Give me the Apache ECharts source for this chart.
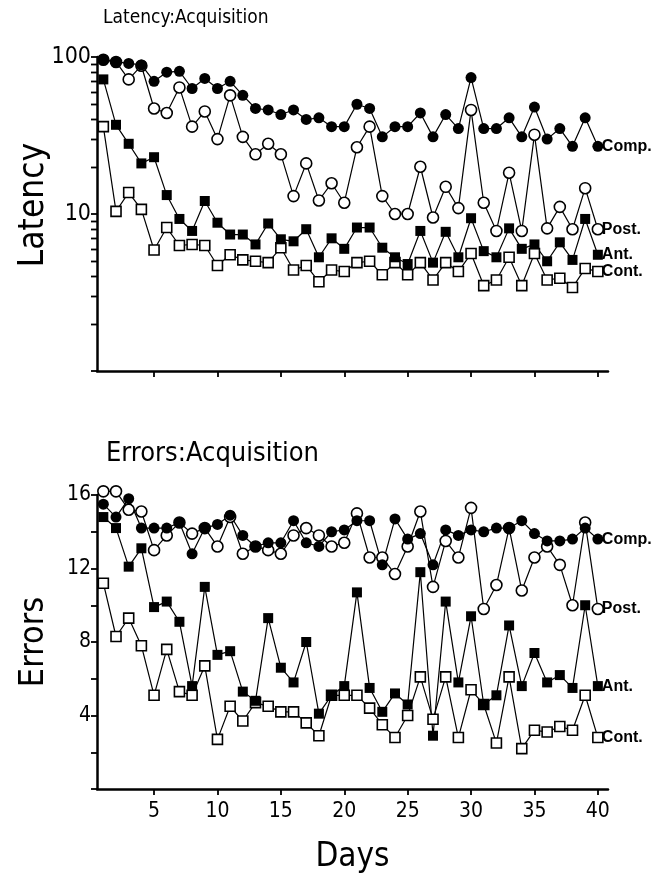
<!DOCTYPE html>
<html>
<head>
<meta charset="utf-8">
<script src="https://cdn.jsdelivr.net/npm/echarts@6/dist/echarts.min.js"></script>
<style>
html, body { margin: 0; padding: 0; background: #fff; }
#chart { width: 663px; height: 880px; }
</style>
</head>
<body>
<div id="chart"></div>
<script>
// days of training
var days = [1, 2, 3, 4, 5, 6, 7, 8, 9, 10, 11, 12, 13, 14, 15, 16, 17, 18, 19, 20,
            21, 22, 23, 24, 25, 26, 27, 28, 29, 30, 31, 32, 33, 34, 35, 36, 37, 38, 39, 40];
var dayTicks = [5, 10, 15, 20, 25, 30, 35, 40];

// latency (log axis)
var latComp = [96, 93, 91, 89, 70, 80, 81, 63, 73, 63, 70, 57, 47, 46, 43, 46, 40, 41, 36, 36,
               50, 47, 31, 36, 36, 44, 31, 43, 35, 74, 35, 35, 41, 31, 48, 30, 35, 27, 41, 27];
var latPost = [96, 93, 72, 88, 47, 44, 64, 36, 45, 30, 57, 31, 24, 28, 24, 13, 21, 12.2, 15.7, 11.8,
               26.6, 36, 13, 10, 10, 20, 9.5, 14.9, 10.9, 46, 11.8, 7.8, 18.3, 7.8, 32, 8.1, 11.1, 8, 14.6, 8];
var latAnt = [72, 37, 28, 21, 23, 13.2, 9.3, 7.8, 12.1, 8.8, 7.4, 7.4, 6.4, 8.7, 6.9, 6.7, 8, 5.3, 7, 6,
              8.2, 8.2, 6.1, 5.3, 4.8, 7.8, 4.9, 7.7, 5.3, 9.4, 5.8, 5.3, 8.1, 6, 6.4, 5, 6.6, 5.1, 9.3, 5.5];
var latCont = [36, 10.4, 13.7, 10.7, 5.9, 8.2, 6.3, 6.4, 6.3, 4.7, 5.5, 5.1, 5, 4.9, 6.1, 4.4, 4.7, 3.7, 4.4, 4.3,
               4.9, 5, 4.1, 4.9, 4.1, 4.9, 3.8, 4.9, 4.3, 5.6, 3.5, 3.8, 5.3, 3.5, 5.6, 3.8, 3.9, 3.4, 4.5, 4.3];
var latMinorTicks = [2, 3, 4, 5, 6, 7, 8, 9, 20, 30, 40, 50, 60, 70, 80, 90];

// errors
var errComp = [15.5, 14.8, 15.8, 14.2, 14.2, 14.2, 14.5, 12.8, 14.2, 14.4, 14.9, 13.8, 13.2, 13.4, 13.4, 14.6, 13.4, 13.2, 14, 14.1,
               14.6, 14.6, 12.2, 14.7, 13.6, 13.9, 12.2, 14.1, 13.8, 14.1, 14, 14.2, 14.2, 14.6, 13.9, 13.5, 13.5, 13.6, 14.2, 13.6];
var errPost = [16.2, 16.2, 15.2, 15.1, 13, 13.8, 14.5, 13.9, 14.2, 13.2, 14.8, 12.8, 13.2, 13, 12.8, 13.8, 14.2, 13.8, 13.2, 13.4,
               15, 12.6, 12.6, 11.7, 13.2, 15.1, 11, 13.5, 12.6, 15.3, 9.8, 11.1, 14.2, 10.8, 12.6, 13.2, 12.2, 10, 14.5, 9.8];
var errAnt = [14.8, 14.2, 12.1, 13.1, 9.9, 10.2, 9.1, 5.6, 11, 7.3, 7.5, 5.3, 4.8, 9.3, 6.6, 5.8, 8, 4.1, 5.1, 5.6,
              10.7, 5.5, 4.2, 5.2, 4.6, 11.8, 2.9, 10.2, 5.8, 9.4, 4.6, 5.1, 8.9, 5.6, 7.4, 5.8, 6.2, 5.5, 10, 5.6];
var errCont = [11.2, 8.3, 9.3, 7.8, 5.1, 7.6, 5.3, 5.1, 6.7, 2.7, 4.5, 3.7, 4.7, 4.5, 4.2, 4.2, 3.6, 2.9, 5.1, 5.1,
               5.1, 4.4, 3.5, 2.8, 4, 6.1, 3.8, 6.1, 2.8, 5.4, 4.6, 2.5, 6.1, 2.2, 3.2, 3.1, 3.4, 3.2, 5.1, 2.8];

var techFont = "'DejaVu Sans Condensed', 'Liberation Sans Narrow', 'DejaVu Sans', sans-serif";
var labelFont = "'Liberation Sans', Arial, sans-serif";

var chart = echarts.init(document.getElementById('chart'));

function pairs(vals) {
    return vals.map(function(v, i) { return [days[i], v]; });
}

function makeSeries(name, vals, panel, symbol, filled, endText) {
    return {
        name: name,
        type: 'line',
        xAxisIndex: panel,
        yAxisIndex: panel,
        data: pairs(vals),
        clip: false,
        symbol: symbol,
        symbolSize: symbol == 'rect' ? 10 : 11,
        showAllSymbol: true,
        lineStyle: { color: '#000', width: 1.2 },
        itemStyle: {
            color: filled ? '#000' : '#fff',
            borderColor: '#000',
            borderWidth: filled ? 0 : 1.6
        },
        endLabel: {
            show: true,
            formatter: endText,
            color: '#000',
            fontFamily: labelFont,
            fontWeight: 'bold',
            fontSize: 16,
            distance: 4
        },
        emphasis: { disabled: true },
        animation: false
    };
}

var tickStyle = { color: '#000', width: 1.8 };

function xAxisFor(panel, showLabels) {
    return {
        type: 'value',
        gridIndex: panel,
        min: 0.5,
        max: 40.8,
        splitLine: { show: false },
        axisLine: { onZero: false, lineStyle: { color: '#000', width: 2.5 } },
        axisTick: { customValues: dayTicks, length: 6, lineStyle: tickStyle },
        axisLabel: {
            show: showLabels,
            customValues: dayTicks,
            color: '#000',
            fontFamily: techFont,
            fontSize: 21,
            margin: 12
        },
        name: showLabels ? 'Days' : '',
        nameLocation: 'middle',
        nameGap: 52,
        nameTextStyle: { color: '#000', fontFamily: techFont, fontSize: 33 }
    };
}

var option = {
    backgroundColor: '#fff',
    animation: false,
    title: [
        { text: 'Latency:Acquisition', left: 98, top: 4,
          textStyle: { color: '#000', fontFamily: techFont, fontWeight: 'normal', fontSize: 19 } },
        { text: 'Errors:Acquisition', left: 101, top: 435,
          textStyle: { color: '#000', fontFamily: techFont, fontWeight: 'normal', fontSize: 27 } }
    ],
    grid: [
        { left: 97, right: 55, top: 57, height: 314, outerBoundsMode: 'none' },
        { left: 97, right: 55, top: 495, height: 294, outerBoundsMode: 'none' }
    ],
    xAxis: [xAxisFor(0, false), xAxisFor(1, true)],
    yAxis: [
        {
            type: 'log',
            gridIndex: 0,
            min: 1,
            max: 100,
            logBase: 10,
            splitLine: { show: false },
            axisLine: { lineStyle: { color: '#000', width: 2.5 } },
            axisTick: { length: 6, lineStyle: tickStyle },
            axisLabel: {
                color: '#000', fontFamily: techFont, fontSize: 23, margin: 6,
                formatter: function(v) { return v >= 10 ? String(Math.round(v)) : ''; }
            },
            name: 'Latency',
            nameLocation: 'middle',
            nameGap: 46,
            nameMoveOverlap: false,
            nameTextStyle: { color: '#000', fontFamily: techFont, fontSize: 35, padding: [0, 0, 0, 18] }
        },
        {
            type: 'value',
            gridIndex: 1,
            min: 0,
            max: 16,
            interval: 2,
            splitLine: { show: false },
            axisLine: { lineStyle: { color: '#000', width: 2.5 } },
            axisTick: { length: 6, lineStyle: tickStyle },
            axisLabel: {
                color: '#000', fontFamily: techFont, fontSize: 21, margin: 6,
                formatter: function(v) { return (v > 0 && v % 4 === 0) ? String(v) : ''; }
            },
            name: 'Errors',
            nameLocation: 'middle',
            nameGap: 46,
            nameMoveOverlap: false,
            nameTextStyle: { color: '#000', fontFamily: techFont, fontSize: 34 }
        }
    ],
    series: [
        makeSeries('Cont.', latCont, 0, 'rect', false, 'Cont.'),
        makeSeries('Ant.', latAnt, 0, 'rect', true, 'Ant.'),
        makeSeries('Post.', latPost, 0, 'circle', false, 'Post.'),
        makeSeries('Comp.', latComp, 0, 'circle', true, 'Comp.'),
        makeSeries('Cont.', errCont, 1, 'rect', false, 'Cont.'),
        makeSeries('Ant.', errAnt, 1, 'rect', true, 'Ant.'),
        makeSeries('Post.', errPost, 1, 'circle', false, 'Post.'),
        makeSeries('Comp.', errComp, 1, 'circle', true, 'Comp.')
    ]
};

chart.setOption(option);

// minor ticks of the log axis, placed through the axis' own scale
var axisX = chart.convertToPixel({ xAxisIndex: 0 }, 0.5);
chart.setOption({
    graphic: latMinorTicks.map(function(v) {
        var y = Math.round(chart.convertToPixel({ yAxisIndex: 0 }, v)) + 0.5;
        return {
            type: 'line',
            silent: true,
            shape: { x1: axisX - 6, y1: y, x2: axisX, y2: y },
            style: { stroke: '#000', lineWidth: 1.8 }
        };
    })
});
</script>
</body>
</html>
